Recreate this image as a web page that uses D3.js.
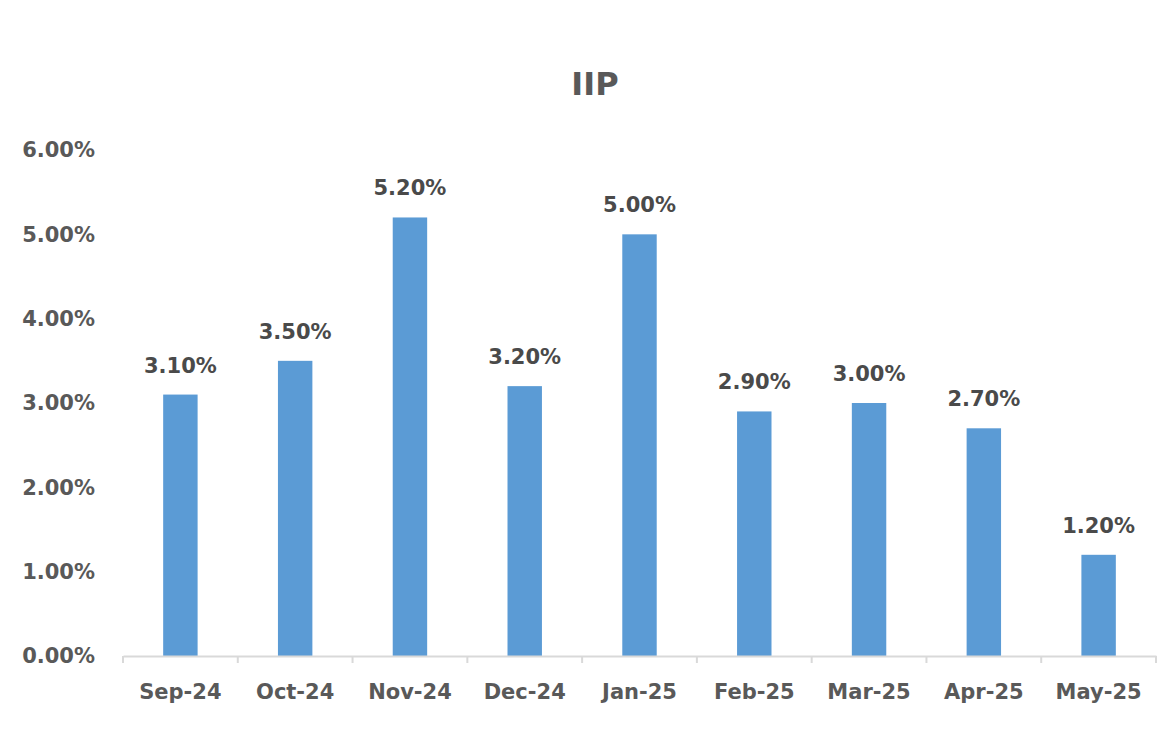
<!DOCTYPE html>
<html>
<head>
<meta charset="utf-8">
<script src="https://cdn.jsdelivr.net/npm/d3@7"></script>
<style>
  html, body { margin: 0; padding: 0; background: #fff; }
  svg { display: block; }
  text { font-family: "DejaVu Sans", sans-serif; font-weight: bold; fill: #595959; }
</style>
</head>
<body>
<svg id="chart" width="1168" height="733"></svg>
<script>
const title = "IIP";
const categories = ["Sep-24", "Oct-24", "Nov-24", "Dec-24", "Jan-25", "Feb-25", "Mar-25", "Apr-25", "May-25"];
const values = [3.10, 3.50, 5.20, 3.20, 5.00, 2.90, 3.00, 2.70, 1.20];
const yTicks = [0, 1, 2, 3, 4, 5, 6];

const svg = d3.select("#chart");
const plotLeft = 123, plotRight = 1156, plotTop = 150, plotBottom = 656;

const x = d3.scaleBand().domain(categories).range([plotLeft, plotRight]).paddingInner(0.7).paddingOuter(0.35);
const xOuter = d3.scaleBand().domain(categories).range([plotLeft, plotRight]);
const y = d3.scaleLinear().domain([0, 6]).range([plotBottom, plotTop]);

svg.append("text")
  .attr("x", 595).attr("y", 95)
  .attr("text-anchor", "middle")
  .style("font-size", "32px")
  .style("font-weight", "bold")
  .style("fill", "#595959")
  .text(title);

// y axis labels
const yAxis = d3.axisLeft(y).tickValues(yTicks).tickSize(0).tickPadding(0)
  .tickFormat(d => d.toFixed(2) + "%");
const gy = svg.append("g").attr("transform", `translate(95,0)`).call(yAxis);
gy.select(".domain").remove();
gy.selectAll("text").style("font-size", "21px").attr("font-family", null).attr("font-size", null);

// bars
svg.append("g").selectAll("rect").data(values).join("rect")
  .attr("x", (d, i) => x(categories[i]))
  .attr("width", x.bandwidth())
  .attr("y", d => y(d))
  .attr("height", d => y(0) - y(d))
  .attr("fill", "#5b9bd5");

// data labels
svg.append("g").selectAll("text").data(values).join("text")
  .attr("x", (d, i) => x(categories[i]) + x.bandwidth() / 2)
  .attr("y", d => y(d) - 28)
  .attr("text-anchor", "middle")
  .attr("dominant-baseline", "middle")
  .style("font-size", "21px")
  .style("fill", "#4a4a4a")
  .text(d => d.toFixed(2) + "%");

// x axis
const xAxis = d3.axisBottom(xOuter).tickSize(0).tickPadding(28);
const gx = svg.append("g").attr("transform", `translate(0,${plotBottom})`).call(xAxis);
gx.select(".domain").attr("stroke", "#d9d9d9").attr("stroke-width", 2);
gx.selectAll("text").style("font-size", "21px").attr("font-family", null).attr("font-size", null);
// category boundary ticks
const bounds = categories.map(c => xOuter(c)).concat([plotRight]);
gx.selectAll("line.b").data(bounds).join("line").attr("class", "b")
  .attr("x1", d => d).attr("x2", d => d).attr("y1", 0).attr("y2", 7)
  .attr("stroke", "#d9d9d9").attr("stroke-width", 2);
</script>
</body>
</html>
